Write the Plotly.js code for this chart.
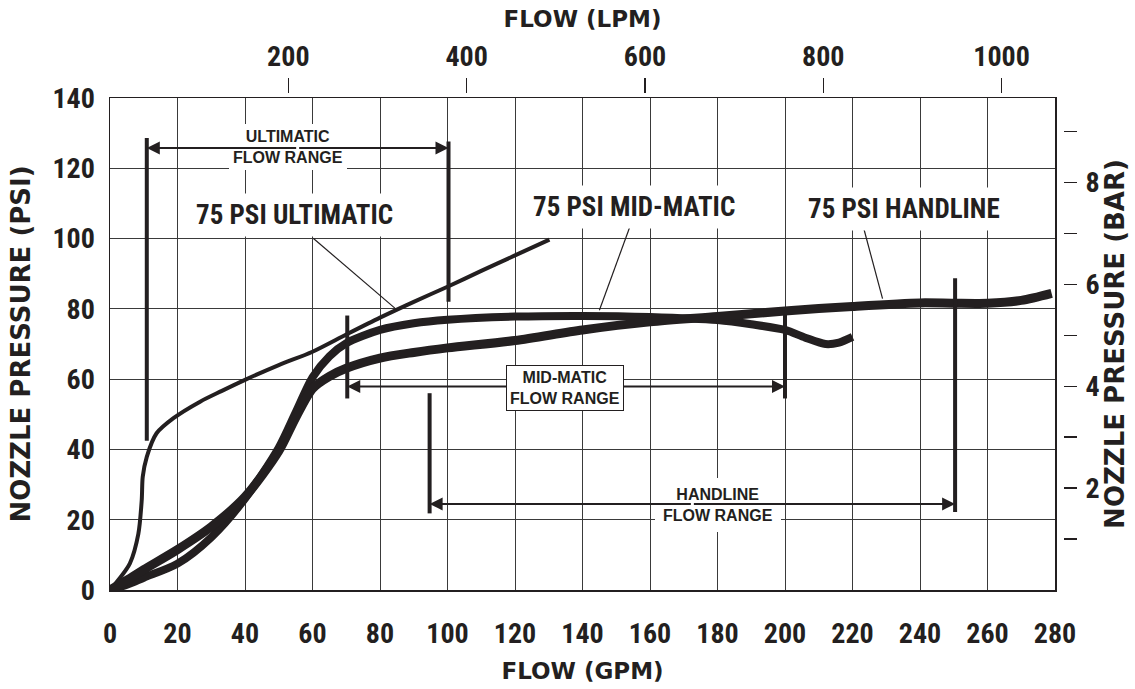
<!DOCTYPE html>
<html>
<head>
<meta charset="utf-8">
<script src="https://cdn.plot.ly/plotly-3.0.1.min.js"></script>
<style>html,body{margin:0;padding:0;background:#fff}#chart{width:1135px;height:689px}</style>
</head>
<body>
<div id="chart"></div>
<script>
// ---------- data ----------
const gpmTicks = [0,20,40,60,80,100,120,140,160,180,200,220,240,260,280];
const psiTicks = [0,20,40,60,80,100,120,140];
const lpmTicks = [200,400,600,800,1000];
const barTicks = [1,2,3,4,5,6,7,8,9];
const barTickText = ['','2','','4','','6','','8',''];

const ultimaticGpm = [0,3,5.9,8.4,9.4,9.7,10.9,13.8,18.8,26.7,33,40,50,60,70,80,90,100,110,120,130.2];
const ultimaticPsi = [0,3.5,7.6,16,25.6,32.2,37.9,44.6,48.9,53.6,56.6,59.8,64,67.8,72.7,77.5,82,86.3,90.8,95.2,99.7];

const midmaticGpm = [0,5,10,20,30,40,50,55,60,65,70,80,90,100,120,140,160,180,190,200,206,212,216,220];
const midmaticPsi = [0,1.5,3.5,7.5,15,26,40.5,50.5,60.5,66.5,70.2,74,75.9,76.9,77.8,78,77.7,76.8,75.6,74,71.8,70,70.4,72];

const handlineGpm = [0,5,10,20,30,40,50,55,60,65,70,80,90,100,120,140,160,180,200,220,240,250,260,270,279];
const handlinePsi = [0,2.8,5.8,11.5,18,26.5,39.5,49,57.3,60.8,63.1,66,67.6,68.9,71,74,76.3,77.8,79.4,80.7,81.7,81.6,81.6,82.4,84.4];

// flow ranges: [start GPM, end GPM], arrow PSI, bar extents (low, high) at start and end
const rangeNames   = ['ULTIMATIC<br>FLOW RANGE','MID-MATIC<br>FLOW RANGE','HANDLINE<br>FLOW RANGE'];
const rangeStart   = [10.9, 70.3, 94.7];
const rangeEnd     = [100.3, 200, 250.4];
const rangeArrowPsi= [125.8, 57.9, 24.5];
const startBarLow  = [42.5, 54.5, 21.8];
const startBarHigh = [128.6, 78.1, 56];
const endBarLow    = [82, 54.5, 22.2];
const endBarHigh   = [127.6, 78.5, 88.7];
const rangeLabelGpm= [52.7, 134.8, 180];
const rangeLabelPsi= [126.0, 57.5, 24.3];

// curve labels and leader lines
const curveLabels   = ['75 PSI ULTIMATIC','75 PSI MID-MATIC','75 PSI HANDLINE'];
const curveLabelGpm = [54.8, 155.3, 235.3];
const curveLabelPsi = [106.7, 109, 108.4];
const leaderFromGpm = [60.2, 153.9, 223.3];
const leaderFromPsi = [100.1, 103.0, 103.0];
const leaderToGpm   = [84.4, 145.0, 228.9];
const leaderToPsi   = [80.2, 79.6, 82.9];

// ---------- fonts: pick the narrowest installed bold face ----------
function hasFont(name){
  const c = document.createElement('canvas').getContext('2d');
  const probe = '75 PSI ULTIMATIC 1234567890';
  let differs = false;
  ['monospace','serif','sans-serif'].forEach(fb => {
    c.font = 'bold 40px ' + fb; const w0 = c.measureText(probe).width;
    c.font = 'bold 40px "' + name + '", ' + fb; const w1 = c.measureText(probe).width;
    if (Math.abs(w0-w1) > 0.5) differs = true;
  });
  return differs;
}
const narrowChoices = [
  {name:'Liberation Sans Narrow', tick:30, label:28},
  {name:'Roboto Condensed', tick:28, label:27},
  {name:'Liberation Sans', tick:26, label:23},
  {name:'DejaVu Sans Condensed', tick:25, label:23}
];
let nf = narrowChoices[narrowChoices.length-1];
for (const ch of narrowChoices){ if (hasFont(ch.name)){ nf = ch; break; } }
const NARROW = '"' + nf.name + '", "Liberation Sans", Arial, sans-serif';

// ---------- styling ----------
const INK = '#231f20';
const SANS = '"Liberation Sans",Arial,sans-serif';
const WIDE = '"DejaVu Sans",Verdana,sans-serif';
const LPM_PER_GPM = 3.785411784;
const BAR_PER_PSI = 1/14.5037738;

const traces = [
  {x: ultimaticGpm, y: ultimaticPsi, mode:'lines', line:{color:INK, width:4, shape:'spline', smoothing:0.8}, name:'75 PSI ULTIMATIC', hoverinfo:'skip'},
  {x: midmaticGpm, y: midmaticPsi, mode:'lines', line:{color:INK, width:8, shape:'spline', smoothing:0.8}, name:'75 PSI MID-MATIC', hoverinfo:'skip'},
  {x: handlineGpm, y: handlinePsi, mode:'lines', line:{color:INK, width:9, shape:'spline', smoothing:0.8}, name:'75 PSI HANDLINE', hoverinfo:'skip'},
  // helper (invisible) so the secondary axes are drawn
  {x:[0], y:[0], xaxis:'x2', yaxis:'y2', mode:'markers', marker:{opacity:0}, hoverinfo:'skip', showlegend:false}
];

const shapes = [];
for (let i=0;i<rangeStart.length;i++){
  shapes.push({type:'line', xref:'x', yref:'y', x0:rangeStart[i], x1:rangeStart[i], y0:startBarLow[i], y1:startBarHigh[i], line:{color:INK, width:4}, layer:'above'});
  shapes.push({type:'line', xref:'x', yref:'y', x0:rangeEnd[i], x1:rangeEnd[i], y0:endBarLow[i], y1:endBarHigh[i], line:{color:INK, width:4}, layer:'above'});
}
for (let i=0;i<leaderFromGpm.length;i++){
  shapes.push({type:'line', xref:'x', yref:'y', x0:leaderFromGpm[i], y0:leaderFromPsi[i], x1:leaderToGpm[i], y1:leaderToPsi[i], line:{color:INK, width:1.2}, layer:'above'});
}

function arrowPair(i){
  const mid = (rangeStart[i]+rangeEnd[i])/2;
  const common = {text:'', showarrow:true, xref:'x', yref:'y', axref:'x', ayref:'y', arrowhead:2, arrowsize:1.3, arrowwidth:2, arrowcolor:INK, standoff:0, startstandoff:0};
  return [
    Object.assign({x:rangeStart[i], y:rangeArrowPsi[i], ax:mid, ay:rangeArrowPsi[i]}, common),
    Object.assign({x:rangeEnd[i], y:rangeArrowPsi[i], ax:mid, ay:rangeArrowPsi[i]}, common)
  ];
}

const annotations = [];
// mid-matic arrow sits behind its boxed label
annotations.push(...arrowPair(1));
const rangePads = [4, 3, 8];
for (let i=0;i<rangeNames.length;i++){
  annotations.push({x:rangeLabelGpm[i], y:rangeLabelPsi[i], xref:'x', yref:'y', text:rangeNames[i], showarrow:false,
    font:{family:SANS, size:16, color:INK, weight:700}, bgcolor:'#ffffff', borderpad:rangePads[i],
    bordercolor: i===1 ? INK : 'rgba(0,0,0,0)', borderwidth: i===1 ? 1 : 0});
}
for (let i=0;i<curveLabels.length;i++){
  annotations.push({x:curveLabelGpm[i], y:curveLabelPsi[i], xref:'x', yref:'y', text:curveLabels[i], showarrow:false,
    font:{family:NARROW, size:nf.label, color:INK, weight:700}, bgcolor:'#ffffff', borderpad:5});
}
annotations.push(...arrowPair(0));
annotations.push(...arrowPair(2));

const tickFont = {family:NARROW, size:nf.tick, color:INK, weight:700};
const titleFontH = {family:WIDE, size:23, color:INK, weight:700};
const titleFontV = {family:WIDE, size:26, color:INK, weight:700};

const layout = {
  width:1135, height:689,
  margin:{l:110, r:72, t:93, b:99, pad:0},
  paper_bgcolor:'#ffffff', plot_bgcolor:'#ffffff',
  showlegend:false,
  xaxis:{domain:[0, 945/953], range:[0,280], tickvals:gpmTicks, ticks:'', showgrid:true, gridcolor:'#3a3a3a', gridwidth:1,
    zeroline:false, showline:true, mirror:true, linecolor:INK, linewidth:1.5, tickfont:tickFont, ticklabelstandoff:18,
    title:{text:'FLOW (GPM)', font:titleFontH, standoff:14}},
  yaxis:{domain:[0, 492/497], range:[0,140], tickvals:psiTicks, ticks:'', showgrid:true, gridcolor:'#3a3a3a', gridwidth:1,
    zeroline:false, showline:true, mirror:true, linecolor:INK, linewidth:1.5, tickfont:tickFont, ticklabelstandoff:8,
    title:{text:'NOZZLE PRESSURE (PSI)', font:titleFontV, standoff:14}},
  xaxis2:{overlaying:'x', side:'top', anchor:'free', position:1, range:[0, 280*LPM_PER_GPM], tickvals:lpmTicks,
    ticks:'outside', ticklen:15, tickwidth:1.2, tickcolor:INK, showgrid:false, zeroline:false, showline:false,
    tickfont:tickFont, ticklabelstandoff:1, title:{text:'FLOW (LPM)', font:titleFontH, standoff:4}},
  yaxis2:{overlaying:'y', side:'right', anchor:'free', position:1, range:[0, 140*BAR_PER_PSI], tickvals:barTicks, ticktext:barTickText,
    ticks:'outside', ticklen:13, tickwidth:1.2, tickcolor:INK, showgrid:false, zeroline:false, showline:false,
    tickfont:tickFont, ticklabelstandoff:3, title:{text:'NOZZLE PRESSURE (BAR)', font:titleFontV, standoff:6}},
  shapes:shapes,
  annotations:annotations
};

Plotly.newPlot('chart', traces, layout, {staticPlot:true, displayModeBar:false});
</script>
</body>
</html>
